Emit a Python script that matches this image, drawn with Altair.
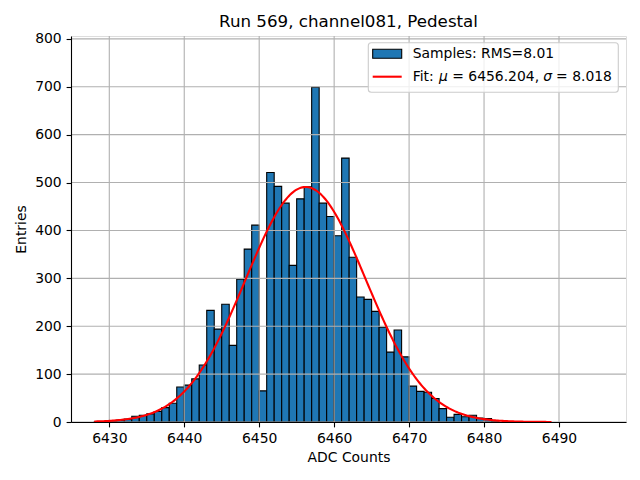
import altair as alt
import numpy as np
import pandas as pd

# ---- data ----
bin_starts = list(range(6428, 6482))
counts = [1, 1, 2, 4, 6, 12, 14, 17, 22, 30, 39,
          73, 77, 90, 119, 233, 194, 246, 160, 298, 361, 411,
          65, 521, 492, 457, 327, 466, 491, 699, 457, 429, 389, 551,
          344, 261, 256, 231, 198, 146, 192, 136, 75, 64, 62, 49, 28,
          10, 16, 11, 14, 8, 7, 1]
bin_width = 1
fit_mu = 6456.204
fit_sigma = 8.018
fit_range = [6428, 6489]
x_ticks = [6430, 6440, 6450, 6460, 6470, 6480, 6490]
y_ticks = [0, 100, 200, 300, 400, 500, 600, 700, 800]
title_text = "Run 569, channel081, Pedestal"
legend_samples = "Samples: RMS=8.01"
# legend fit text split into pieces so the symbols can be italic
fit_pieces = ["Fit:", "\u03bc", "= 6456.204,", "\u03c3", "= 8.018"]
fit_italic = [False, True, False, True, False]
fit_offsets = [0.0, 26.4, 39.6, 130.6, 143.4]

hist = pd.DataFrame({
    "start": bin_starts,
    "end": [b + bin_width for b in bin_starts],
    "count": counts,
})

# Gaussian fit curve defined by the fitted parameters in the legend
n_total = sum(counts)
xs = np.linspace(fit_range[0], fit_range[1], 300)
ys = n_total * bin_width / (fit_sigma * np.sqrt(2 * np.pi)) * np.exp(-0.5 * ((xs - fit_mu) / fit_sigma) ** 2)
fit = pd.DataFrame({"x": xs, "y": ys})

FONT = "DejaVu Sans"
W, H = 555, 386
xscale = alt.Scale(domain=[6424.89, 6498.94], nice=False, zero=False)
yscale = alt.Scale(domain=[0, 806], nice=False)

axis_common = dict(
    grid=False, tickColor="black", tickWidth=1.1, tickSize=4.9,
    domainColor="black", domainWidth=1.1, labelPadding=4.9,
    labelColor="black", labelFont=FONT, labelFontSize=13.9,
    titleFont=FONT, titleFontSize=13.9, titleFontWeight="normal",
    titleColor="black", zindex=1,
)

bars = alt.Chart(hist).mark_rect(
    fill="#1f77b4", stroke="black", strokeWidth=1.1
).encode(
    x=alt.X("start:Q", scale=xscale,
            axis=alt.Axis(values=x_ticks, format="d", title="ADC Counts",
                          titlePadding=5, **axis_common)),
    x2="end:Q",
    y=alt.Y("count:Q", scale=yscale,
            axis=alt.Axis(values=y_ticks, format="d", title="Entries",
                          titlePadding=6, **axis_common)),
    y2=alt.datum(0),
)

xgrid = alt.Chart(pd.DataFrame({"v": x_ticks})).mark_rule(
    color="#b0b0b0", strokeWidth=1.1
).encode(x=alt.X("v:Q", scale=xscale))

ygrid = alt.Chart(pd.DataFrame({"v": y_ticks})).mark_rule(
    color="#b0b0b0", strokeWidth=1.1
).encode(y=alt.Y("v:Q", scale=yscale))

line = alt.Chart(fit).mark_line(color="red", strokeWidth=2.1).encode(
    x=alt.X("x:Q", scale=xscale),
    y=alt.Y("y:Q", scale=yscale),
)

one = pd.DataFrame({"a": [0]})
leg_box = alt.Chart(one).mark_rect(
    fill="white", fillOpacity=0.8, stroke="#cccccc", strokeWidth=1.1,
    cornerRadius=3
).encode(x=alt.value(297.3), x2=alt.value(547.3), y=alt.value(6.7), y2=alt.value(56.3))

leg_patch = alt.Chart(one).mark_rect(
    fill="#1f77b4", stroke="black", strokeWidth=1.1
).encode(x=alt.value(301.7), x2=alt.value(330.7), y=alt.value(13.3), y2=alt.value(22.3))

leg_line = alt.Chart(one).mark_rule(color="red", strokeWidth=2.1).encode(
    x=alt.value(301.7), x2=alt.value(330.7), y=alt.value(40.7))

TX = 341.7
leg_text1 = alt.Chart(pd.DataFrame({"t": [legend_samples]})).mark_text(
    align="left", baseline="middle", font=FONT, fontSize=13.9, color="black"
).encode(x=alt.value(TX), y=alt.value(18.0), text="t:N")

fit_layers = []
for piece, ital, off in zip(fit_pieces, fit_italic, fit_offsets):
    kw = dict(align="left", baseline="middle", font=FONT, fontSize=13.9, color="black")
    if ital:
        kw["fontStyle"] = "italic"
    fit_layers.append(
        alt.Chart(pd.DataFrame({"t": [piece]})).mark_text(**kw).encode(
            x=alt.value(TX + off), y=alt.value(40.7), text="t:N")
    )

chart = alt.layer(bars, xgrid, ygrid, line, leg_box, leg_patch, leg_line, leg_text1, *fit_layers).properties(
    width=W, height=H,
    title=alt.TitleParams(title_text, font=FONT, fontSize=16.7, fontWeight="normal",
                          color="black", anchor="middle", offset=1),
    autosize=alt.AutoSizeParams(type="none"),
    padding={"left": 63, "top": 28, "right": 6, "bottom": 50},
).configure_view(stroke="black", strokeWidth=1.1).configure(background="white")

chart.save("out.html", embed_options={"renderer": "svg", "actions": False})
